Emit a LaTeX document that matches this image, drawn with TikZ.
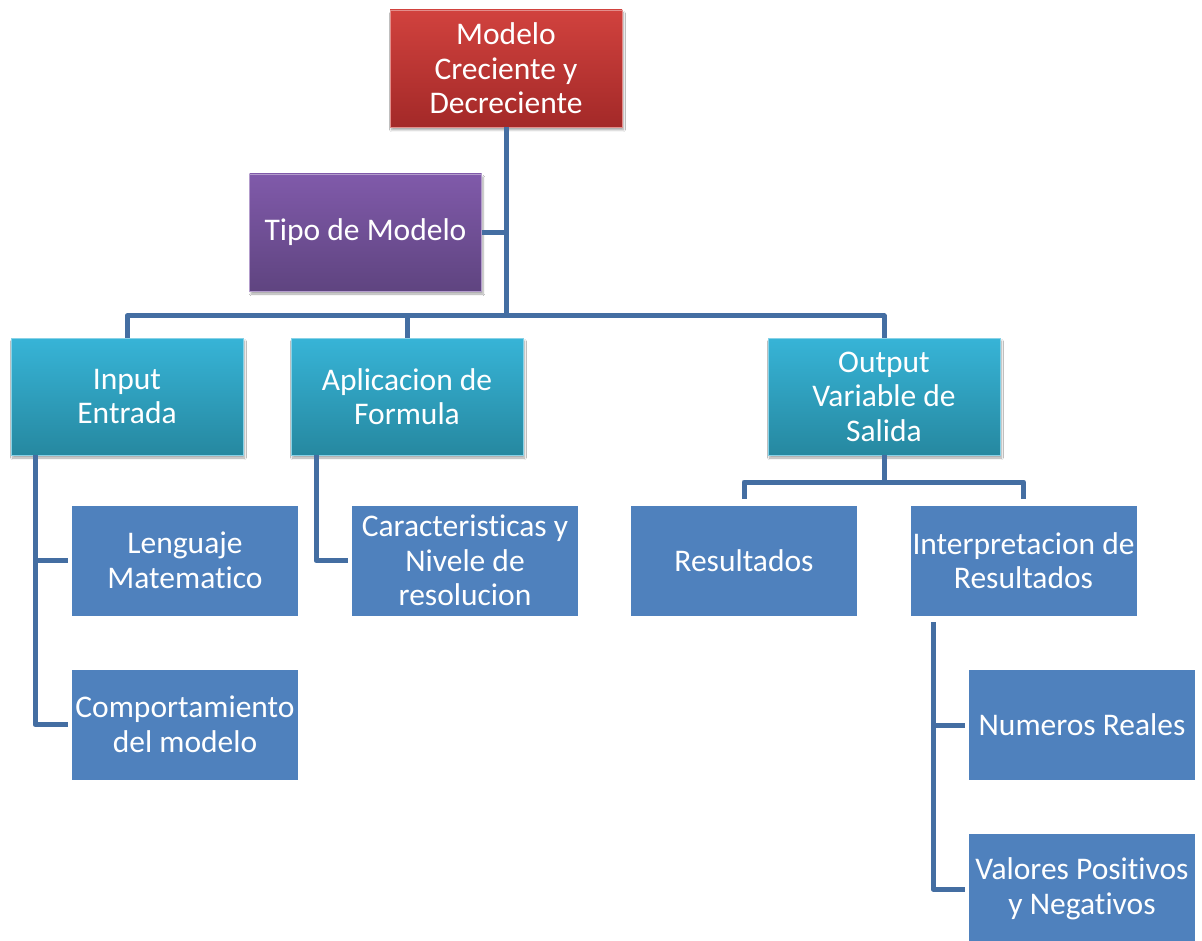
\documentclass[tikz,border=0pt]{standalone}
\usepackage{fontspec}
\setmainfont{Carlito}[Ligatures={NoCommon}]
\usetikzlibrary{shadows.blur,calc}
\definecolor{connc}{RGB}{68,110,162}
\definecolor{leafc}{RGB}{79,129,189}
\definecolor{redtop}{RGB}{209,66,62}
\definecolor{redbot}{RGB}{163,41,40}
\definecolor{purtop}{RGB}{128,90,170}
\definecolor{purbot}{RGB}{95,68,128}
\definecolor{cyantop}{RGB}{55,180,215}
\definecolor{cyanbot}{RGB}{38,136,160}
\tikzset{
  txt/.style={text=white, align=center, font=\fontsize{31.5}{34.5}\selectfont, inner sep=0pt},
  topbox/.style={txt, minimum width=232pt, minimum height=117pt,
     blur shadow={shadow xshift=1.5pt, shadow yshift=-3pt, shadow blur steps=6, shadow opacity=35}},
  redbox/.style={topbox, top color=redtop, bottom color=redbot, draw=redtop!60!white, line width=0.8pt},
  purbox/.style={topbox, top color=purtop, bottom color=purbot, draw=purtop!60!white, line width=0.8pt},
  cyanbox/.style={topbox, top color=cyantop, bottom color=cyanbot, draw=cyantop!60!white, line width=0.8pt},
  leaf/.style={txt, fill=leafc, minimum width=226pt, minimum height=110pt},
  conn/.style={draw=connc, line width=5pt, line join=round},
}
\begin{document}
\begin{tikzpicture}[x=1pt,y=-1pt]
\useasboundingbox (0,0) rectangle (1202,941);
\clip (0,0) rectangle (1202,941);
\fill[white] (0,0) rectangle (1202,941);

\coordinate (hub) at (506,316);
\coordinate (inl) at (35,455);
\coordinate (apl) at (316,455);
\coordinate (ohub) at (884,482);
\coordinate (il) at (933,622);

\node[redbox] (red) at (506,68.5) {Modelo\\Creciente y\\Decreciente};
\node[purbox] (tipo) at (365.5,232.5) {Tipo de Modelo};
\node[cyanbox] (input) at (127,396.5) {Input\\Entrada};
\node[cyanbox] (aplic) at (407,396.5) {Aplicacion de\\Formula};
\node[cyanbox] (output) at (884,396.5) {Output\\Variable de\\Salida};
\node[leaf] (leng) at (185,560.5) {Lenguaje\\Matematico};
\node[leaf] (comp) at (185,724.5) {Comportamiento\\del modelo};
\node[leaf] (carac) at (465,560.5) {Caracteristicas y\\Nivele de\\resolucion};
\node[leaf] (res) at (744,560.5) {Resultados};
\node[leaf] (interp) at (1023.5,560.5) {Interpretacion de\\Resultados};
\node[leaf] (num) at (1082,725) {Numeros Reales};
\node[leaf] (val) at (1082,889) {Valores Positivos\\y Negativos};

\draw[conn] (red.south) -- (hub);
\draw[conn] (tipo.east) -- (tipo.east -| red.south);
\draw[conn] (hub) -| (input.north);
\draw[conn] (hub) -| (aplic.north);
\draw[conn] (hub) -| (output.north);
\draw[conn, shorten >=4pt] (inl) |- (leng.west);
\draw[conn, shorten >=4pt] (inl) |- (comp.west);
\draw[conn, shorten >=4pt] (apl) |- (carac.west);
\draw[conn] (output.south) -- (ohub);
\draw[conn, shorten >=6pt] (ohub) -| (res.north);
\draw[conn, shorten >=6pt] (ohub) -| (interp.north);
\draw[conn, shorten >=4pt] (il) |- (num.west);
\draw[conn, shorten >=4pt] (il) |- (val.west);
\end{tikzpicture}
\end{document}
